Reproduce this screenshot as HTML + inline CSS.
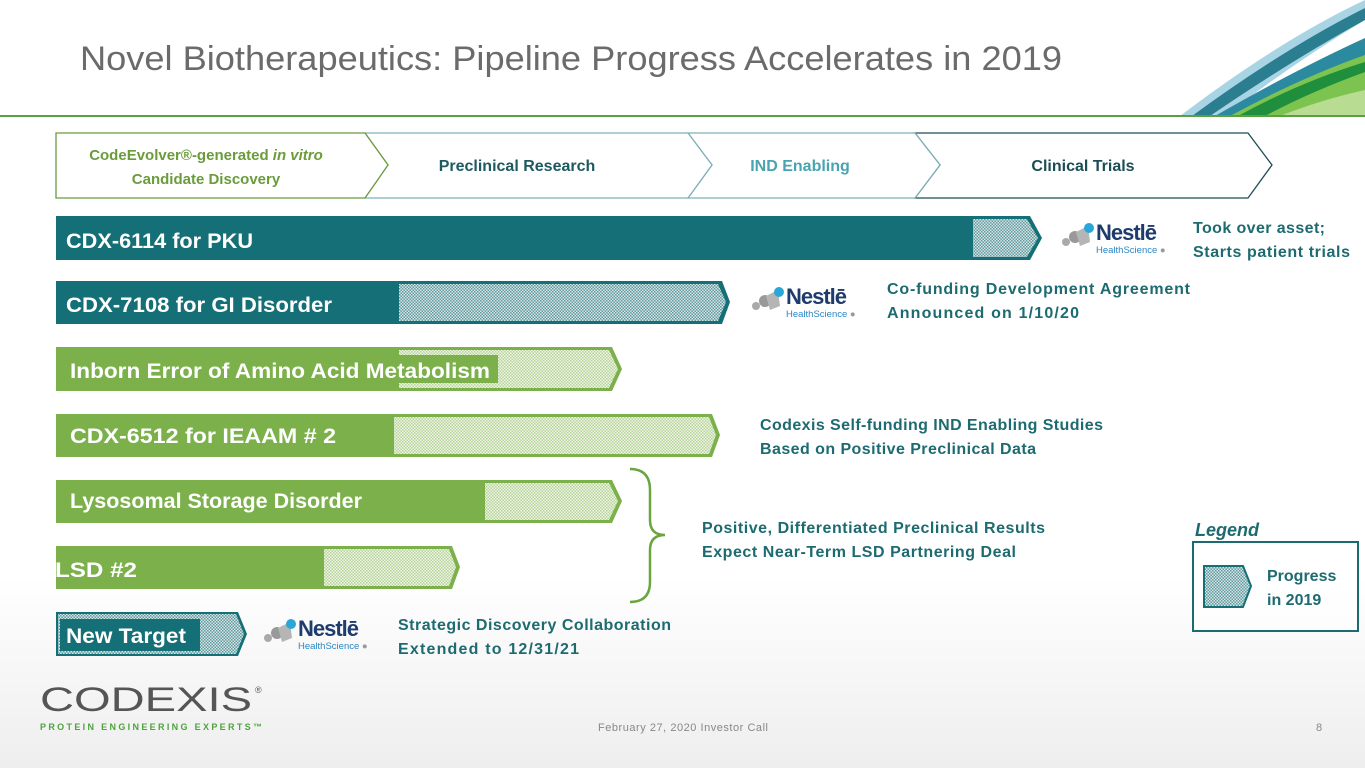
<!DOCTYPE html>
<html><head><meta charset="utf-8"><style>
html,body{margin:0;padding:0;background:#fff;}
svg{display:block;font-family:"Liberation Sans",sans-serif;}
.b{font-weight:bold;}
</style></head><body>
<svg width="1365" height="768" viewBox="0 0 1365 768" xmlns="http://www.w3.org/2000/svg">
<defs>
<pattern id="ht" width="3" height="3" patternUnits="userSpaceOnUse">
<rect width="3" height="3" fill="#d8e4e4"/><rect x="0" y="0" width="1.5" height="1.5" fill="#5f9ba0"/><rect x="1.5" y="1.5" width="1.5" height="1.5" fill="#5f9ba0"/>
</pattern>
<pattern id="hg" width="3" height="3" patternUnits="userSpaceOnUse">
<rect width="3" height="3" fill="#eef4e6"/><rect x="0" y="0" width="1.5" height="1.5" fill="#b7d39a"/><rect x="1.5" y="1.5" width="1.5" height="1.5" fill="#b7d39a"/>
</pattern>
<linearGradient id="bg" x1="0" y1="0" x2="0" y2="1"><stop offset="0.75" stop-color="#fff"/><stop offset="1" stop-color="#eeeeee"/></linearGradient>
</defs>
<rect width="1365" height="768" fill="url(#bg)"/>
<!-- header swoosh -->
<path d="M1180,116 Q1280,40 1365,0 L1365,20 Q1290,65 1225,116 Z" fill="#a8d4e4"/>
<path d="M1192,116 Q1285,48 1365,8 L1365,20 Q1292,60 1210,116 Z" fill="#2b7d90"/>
<path d="M1215,116 Q1295,70 1365,38 L1365,55 Q1305,85 1245,116 Z" fill="#2b8aa0"/>
<path d="M1230,116 Q1300,78 1365,55 L1365,116 Z" fill="#7cc34f"/>
<path d="M1238,116 Q1300,82 1365,62 L1365,72 Q1310,92 1265,116 Z" fill="#1f8f3e"/>
<path d="M1280,116 Q1320,100 1365,90 L1365,116 Z" fill="#b8dc92"/>
<text x="80" y="70" font-size="34" fill="#6b6b6b" textLength="982" lengthAdjust="spacingAndGlyphs">Novel Biotherapeutics:  Pipeline Progress Accelerates in 2019</text>
<rect x="0" y="115" width="1365" height="2" fill="#5aa043"/>
<!-- phase chevrons -->
<polygon points="915,133 1248,133 1272,165 1248,198 915,198 940,165" fill="#fff" stroke="#1d4d54" stroke-width="1.3"/>
<polygon points="688,133 915,133 940,165 915,198 688,198 712,165" fill="#fff" stroke="#7fb0b8" stroke-width="1.3"/>
<polygon points="365,133 688,133 712,165 688,198 365,198 388,165" fill="#fff" stroke="#7fb0b8" stroke-width="1.3"/>
<polygon points="56,133 365,133 388,165 365,198 56,198" fill="#fff" stroke="#6a9c3b" stroke-width="1.3"/>
<text x="206" y="160" font-size="15" class="b" fill="#6a9c3b" text-anchor="middle">CodeEvolver®-generated <tspan font-style="italic">in vitro</tspan></text>
<text x="206" y="184" font-size="15" class="b" fill="#6a9c3b" text-anchor="middle">Candidate Discovery</text>
<text x="517" y="171" font-size="16" class="b" fill="#1d5a60" text-anchor="middle">Preclinical Research</text>
<text x="800" y="171" font-size="16" class="b" fill="#4aa3b0" text-anchor="middle">IND Enabling</text>
<text x="1083" y="171" font-size="16" class="b" fill="#1d4d54" text-anchor="middle">Clinical Trials</text>
<!-- row1 -->
<polygon points="56,216 1030,216 1042,238 1030,260 56,260" fill="#146f76"/>
<polygon points="973,219 1027,219 1038,238 1027,257 973,257" fill="url(#ht)"/>
<text x="66" y="248" font-size="21" class="b" fill="#fff" textLength="187" lengthAdjust="spacingAndGlyphs">CDX-6114 for PKU</text>
<g transform="translate(1058,220)">
<circle cx="8" cy="22" r="4" fill="#aaa"/><circle cx="17" cy="17" r="6" fill="#999"/><polygon points="18,12 30,6 32,22 22,26" fill="#b5b5b5"/><circle cx="31" cy="8" r="5" fill="#2aa7d8"/>
<text x="38" y="20" font-size="22" class="b" fill="#1f3c6e" letter-spacing="-1">Nestlē</text>
<text x="38" y="33" font-size="9.5" fill="#2a86c4">HealthScience<tspan fill="#999"> ●</tspan></text>
</g>
<text x="1193" y="233" font-size="16" class="b" fill="#1d6b70" textLength="132">Took over asset;</text>
<text x="1193" y="257" font-size="16" class="b" fill="#1d6b70" textLength="157">Starts patient trials</text>
<!-- row2 -->
<polygon points="56,281 722,281 730,302 722,324 56,324" fill="#146f76"/>
<polygon points="399,284 718,284 726,302 718,321 399,321" fill="url(#ht)"/>
<text x="66" y="312" font-size="21" class="b" fill="#fff" textLength="266" lengthAdjust="spacingAndGlyphs">CDX-7108 for GI Disorder</text>
<g transform="translate(748,284)">
<circle cx="8" cy="22" r="4" fill="#aaa"/><circle cx="17" cy="17" r="6" fill="#999"/><polygon points="18,12 30,6 32,22 22,26" fill="#b5b5b5"/><circle cx="31" cy="8" r="5" fill="#2aa7d8"/>
<text x="38" y="20" font-size="22" class="b" fill="#1f3c6e" letter-spacing="-1">Nestlē</text>
<text x="38" y="33" font-size="9.5" fill="#2a86c4">HealthScience<tspan fill="#999"> ●</tspan></text>
</g>
<text x="887" y="294" font-size="16" class="b" fill="#1d6b70" textLength="303">Co-funding Development Agreement</text>
<text x="887" y="318" font-size="16" class="b" fill="#1d6b70" textLength="192">Announced on 1/10/20</text>
<!-- row3 -->
<polygon points="56,347 612,347 622,369 612,391 56,391" fill="#7bb04b"/>
<polygon points="399,350 609,350 618,369 609,388 399,388" fill="url(#hg)"/>
<rect x="395" y="355" width="103" height="28" fill="#7bb04b"/>
<text x="70" y="378" font-size="21" class="b" fill="#fff" textLength="420" lengthAdjust="spacingAndGlyphs">Inborn Error of Amino Acid Metabolism</text>
<!-- row4 -->
<polygon points="56,414 712,414 720,435 712,457 56,457" fill="#7bb04b"/>
<polygon points="394,417 709,417 716,435 709,454 394,454" fill="url(#hg)"/>
<text x="70" y="443" font-size="21" class="b" fill="#fff" textLength="266" lengthAdjust="spacingAndGlyphs">CDX-6512 for IEAAM # 2</text>
<text x="760" y="430" font-size="16" class="b" fill="#1d6b70" textLength="343">Codexis Self-funding IND Enabling Studies</text>
<text x="760" y="454" font-size="16" class="b" fill="#1d6b70" textLength="276">Based on Positive Preclinical Data</text>
<!-- row5 -->
<polygon points="56,480 612,480 622,501 612,523 56,523" fill="#7bb04b"/>
<polygon points="485,483 609,483 618,501 609,520 485,520" fill="url(#hg)"/>
<text x="70" y="508" font-size="21" class="b" fill="#fff" textLength="292" lengthAdjust="spacingAndGlyphs">Lysosomal Storage Disorder</text>
<!-- row6 -->
<polygon points="56,546 452,546 460,567 452,589 56,589" fill="#7bb04b"/>
<polygon points="324,549 449,549 456,567 449,586 324,586" fill="url(#hg)"/>
<text x="55" y="577" font-size="21" class="b" fill="#fff" textLength="82" lengthAdjust="spacingAndGlyphs">LSD #2</text>
<!-- brace -->
<path d="M630,469 Q650,469 650,490 L650,520 Q650,535 665,535 Q650,535 650,550 L650,582 Q650,602 630,602" fill="none" stroke="#6aa53f" stroke-width="2.5"/>
<text x="702" y="533" font-size="16" class="b" fill="#1d6b70" textLength="343">Positive, Differentiated Preclinical Results</text>
<text x="702" y="557" font-size="16" class="b" fill="#1d6b70" textLength="314">Expect Near-Term LSD Partnering Deal</text>
<!-- new target -->
<polygon points="56,612 238,612 247,634 238,656 56,656" fill="#146f76"/>
<polygon points="58,614 236,614 244,634 236,654 58,654" fill="url(#ht)"/>
<rect x="60" y="619" width="140" height="32" fill="#146f76"/>
<text x="66" y="643" font-size="21" class="b" fill="#fff" textLength="120" lengthAdjust="spacingAndGlyphs">New Target</text>
<g transform="translate(260,616)">
<circle cx="8" cy="22" r="4" fill="#aaa"/><circle cx="17" cy="17" r="6" fill="#999"/><polygon points="18,12 30,6 32,22 22,26" fill="#b5b5b5"/><circle cx="31" cy="8" r="5" fill="#2aa7d8"/>
<text x="38" y="20" font-size="22" class="b" fill="#1f3c6e" letter-spacing="-1">Nestlē</text>
<text x="38" y="33" font-size="9.5" fill="#2a86c4">HealthScience<tspan fill="#999"> ●</tspan></text>
</g>
<text x="398" y="630" font-size="16" class="b" fill="#1d6b70" textLength="273">Strategic Discovery Collaboration</text>
<text x="398" y="654" font-size="16" class="b" fill="#1d6b70" textLength="181">Extended to 12/31/21</text>
<!-- legend -->
<text x="1195" y="536" font-size="18" class="b" font-style="italic" fill="#1d6b70">Legend</text>
<rect x="1193" y="542" width="165" height="89" fill="#fff" fill-opacity="0.6" stroke="#1d6b70" stroke-width="2"/>
<polygon points="1204,566 1243,566 1251,586 1243,607 1204,607" fill="url(#ht)" stroke="#146f76" stroke-width="2"/>
<text x="1267" y="581" font-size="16" class="b" fill="#1d6b70">Progress</text>
<text x="1267" y="605" font-size="16" class="b" fill="#1d6b70">in 2019</text>
<!-- footer -->
<text x="40" y="711" font-size="34" fill="#555" textLength="212" lengthAdjust="spacingAndGlyphs">CODEXIS</text>
<text x="255" y="693" font-size="9" fill="#555">®</text>
<text x="40" y="730" font-size="9" class="b" fill="#4fa33d" textLength="222">PROTEIN ENGINEERING EXPERTS™</text>
<text x="598" y="731" font-size="11" fill="#888" textLength="170">February 27, 2020 Investor Call</text>
<text x="1316" y="731" font-size="11" fill="#888">8</text>
</svg>
</body></html>
